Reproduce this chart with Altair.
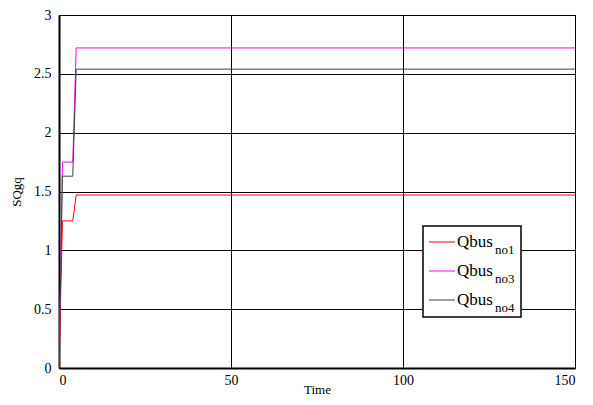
import altair as alt
import pandas as pd

time = [0, 1, 4, 5, 150]
q_no1 = [0, 1.25, 1.25, 1.47, 1.47]
q_no3 = [0, 1.75, 1.75, 2.72, 2.72]
q_no4 = [0, 1.63, 1.63, 2.54, 2.54]

series_names = ["Qbus_no1", "Qbus_no3", "Qbus_no4"]
legend_main = ["Qbus", "Qbus", "Qbus"]
legend_sub = ["no1", "no3", "no4"]
colors = ["#ff0000", "#ff00ff", "#404040"]
x_ticks = [0, 50, 100, 150]
y_ticks = [0, 0.5, 1, 1.5, 2, 2.5, 3]

rows = []
for name, vals in zip(series_names, [q_no1, q_no3, q_no4]):
    for t, v in zip(time, vals):
        rows.append({"Time": t, "SQgq": v, "series": name})
df = pd.DataFrame(rows)

FONT = "Liberation Serif"
W, H = 516, 353

lines = alt.Chart(df).mark_line(strokeWidth=1, clip=True).encode(
    x=alt.X("Time:Q", scale=alt.Scale(domain=[0, 150], nice=False),
            axis=alt.Axis(values=x_ticks, title="Time", grid=True, format="d",
                          titleY=25, titleBaseline="alphabetic")),
    y=alt.Y("SQgq:Q", scale=alt.Scale(domain=[0, 3], nice=False),
            axis=alt.Axis(values=y_ticks, title="SQgq", grid=True,
                          labelExpr="datum.value + ''")),
    color=alt.Color("series:N", scale=alt.Scale(domain=series_names, range=colors),
                    legend=None),
    detail="series:N",
)

# manual legend (box, samples, labels with subscripts)
bx0, bx1, by0, by1 = 364, 462, 211, 302
layers = [lines]
layers.append(
    alt.Chart(pd.DataFrame({"a": [0]})).mark_rect(
        fill="white", stroke="black", strokeWidth=1.5
    ).encode(x=alt.value(bx0), x2=alt.value(bx1), y=alt.value(by0), y2=alt.value(by1))
)
row_y = [227, 256, 285]
for i in range(3):
    d = pd.DataFrame({"m": [legend_main[i]], "s": [legend_sub[i]]})
    layers.append(
        alt.Chart(d).mark_rule(stroke=colors[i], color=colors[i], strokeWidth=1).encode(
            x=alt.value(370), x2=alt.value(396), y=alt.value(row_y[i]),
            y2=alt.value(row_y[i])
        )
    )
    layers.append(
        alt.Chart(d).mark_text(font=FONT, fontSize=17, align="left",
                               baseline="alphabetic", color="black").encode(
            x=alt.value(398), y=alt.value(row_y[i] + 5), text="m:N"
        )
    )
    layers.append(
        alt.Chart(d).mark_text(font=FONT, fontSize=13, align="left",
                               baseline="alphabetic", color="black").encode(
            x=alt.value(436), y=alt.value(row_y[i] + 12), text="s:N"
        )
    )

chart = alt.layer(*layers).properties(
    width=W, height=H,
    autosize=alt.AutoSizeParams(type="none"),
    padding={"left": 51, "top": 7, "right": 10, "bottom": 29},
).configure_view(
    stroke="black", strokeWidth=1
).configure_axis(
    domainColor="black", domainWidth=2, gridColor="black", gridOpacity=1,
    gridWidth=1, ticks=False, labelFont=FONT, labelFontSize=14,
    labelColor="black", titleFont=FONT, titleFontSize=13, titleColor="black",
    titleFontWeight="normal",
).configure_axisY(
    labelPadding=8, titlePadding=10
).configure_axisX(
    labelPadding=5
)

chart.save("out.html", embed_options={"renderer": "svg", "actions": False})
